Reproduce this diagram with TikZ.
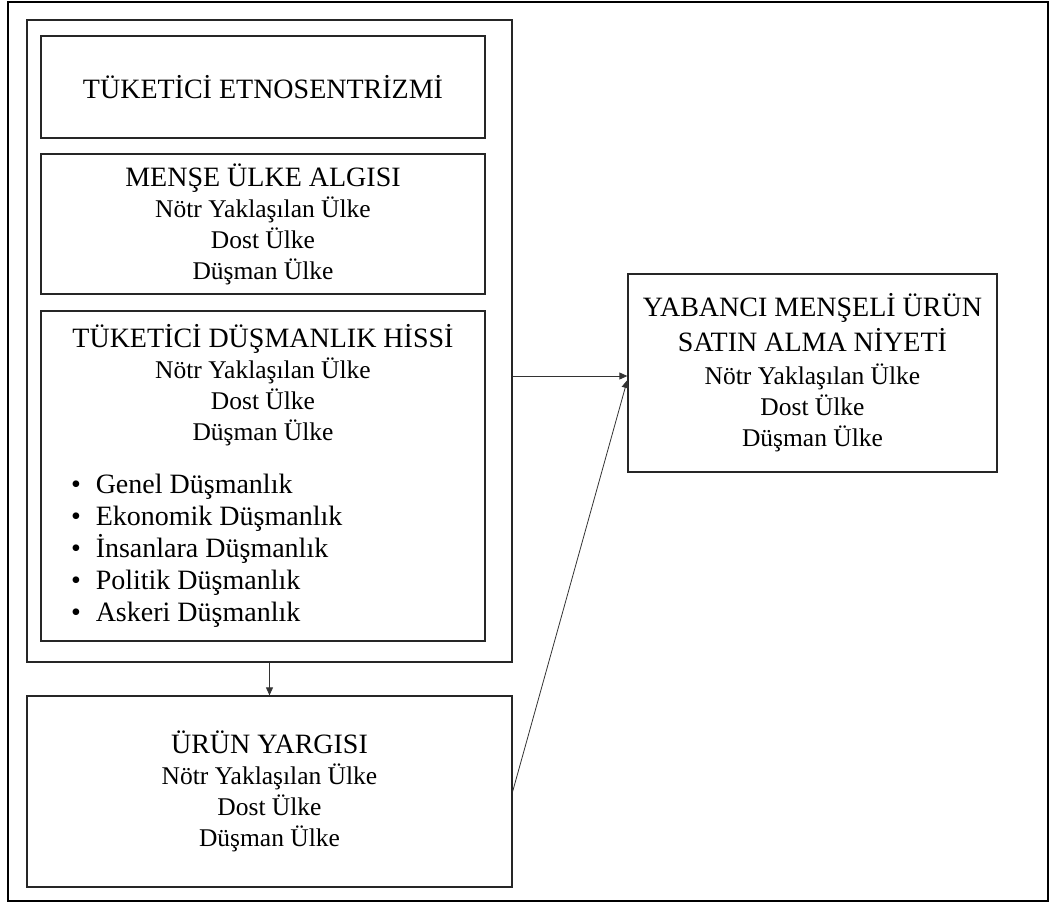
\documentclass[tikz,border=0pt]{standalone}
\usepackage{fontspec}
\setmainfont{Liberation Serif}
\usetikzlibrary{arrows.meta}

\newcommand{\bodyfont}{\fontsize{25.5}{31}\selectfont}
\newcommand{\headfont}{\fontsize{28}{33}\selectfont}
\newcommand{\hitem}[1]{\makebox[444pt][l]{\headfont\hspace*{30pt}\textbullet\hspace{15pt}#1}}

\begin{document}
\begin{tikzpicture}[x=1pt, y=-1pt,
	box/.style={draw=black!85, line width=1.3pt, inner sep=0pt, align=center, font=\bodyfont},
	arr/.style={draw=black!80, line width=0.8pt, -{Triangle[length=8pt,width=7pt]}}]

	% frame of the figure
	\useasboundingbox (0,0) rectangle (1049,903);
	\draw[line width=1.2pt] (8,2) rectangle (1048,901);

	% left group and its boxes
	\node[box, minimum width=485, minimum height=642] (group) at (269.5,341) {};
	\node[box, minimum width=444, minimum height=102] (etno) at (263,87)
		{{\headfont TÜKETİCİ ETNOSENTRİZMİ}};
	\node[box, minimum width=444, minimum height=140] (mense) at (263,224)
		{{\headfont MENŞE ÜLKE ALGISI}\\ Nötr Yaklaşılan Ülke\\ Dost Ülke\\ Düşman Ülke};
	\node[box, minimum width=444, minimum height=330] (hostility) at (263,476)
		{{\headfont TÜKETİCİ DÜŞMANLIK HİSSİ}\\ Nötr Yaklaşılan Ülke\\ Dost Ülke\\ Düşman Ülke\\[22pt]
		\hitem{Genel Düşmanlık}\\[1pt] \hitem{Ekonomik Düşmanlık}\\[1pt] \hitem{İnsanlara Düşmanlık}\\[1pt]
		\hitem{Politik Düşmanlık}\\[1pt] \hitem{Askeri Düşmanlık}};

	% product judgement
	\node[box, minimum width=485, minimum height=191] (urun) at (269.5,791.5)
		{{\headfont ÜRÜN YARGISI}\\ Nötr Yaklaşılan Ülke\\ Dost Ülke\\ Düşman Ülke};

	% purchase intention
	\node[box, minimum width=369, minimum height=198] (niyet) at (812.5,373)
		{{\headfont YABANCI MENŞELİ ÜRÜN}\\[4pt] {\headfont SATIN ALMA NİYETİ}\\[2pt] Nötr Yaklaşılan Ülke\\ Dost Ülke\\ Düşman Ülke};

	% arrows
	\draw[arr] (group.south) -- (urun.north);
	\draw[arr] ([yshift=-3pt]niyet.west -| group.east) -- ([yshift=-3pt]niyet.west);
	\draw[arr] (urun.east) -- ([yshift=-7pt]niyet.west);

\end{tikzpicture}
\end{document}
